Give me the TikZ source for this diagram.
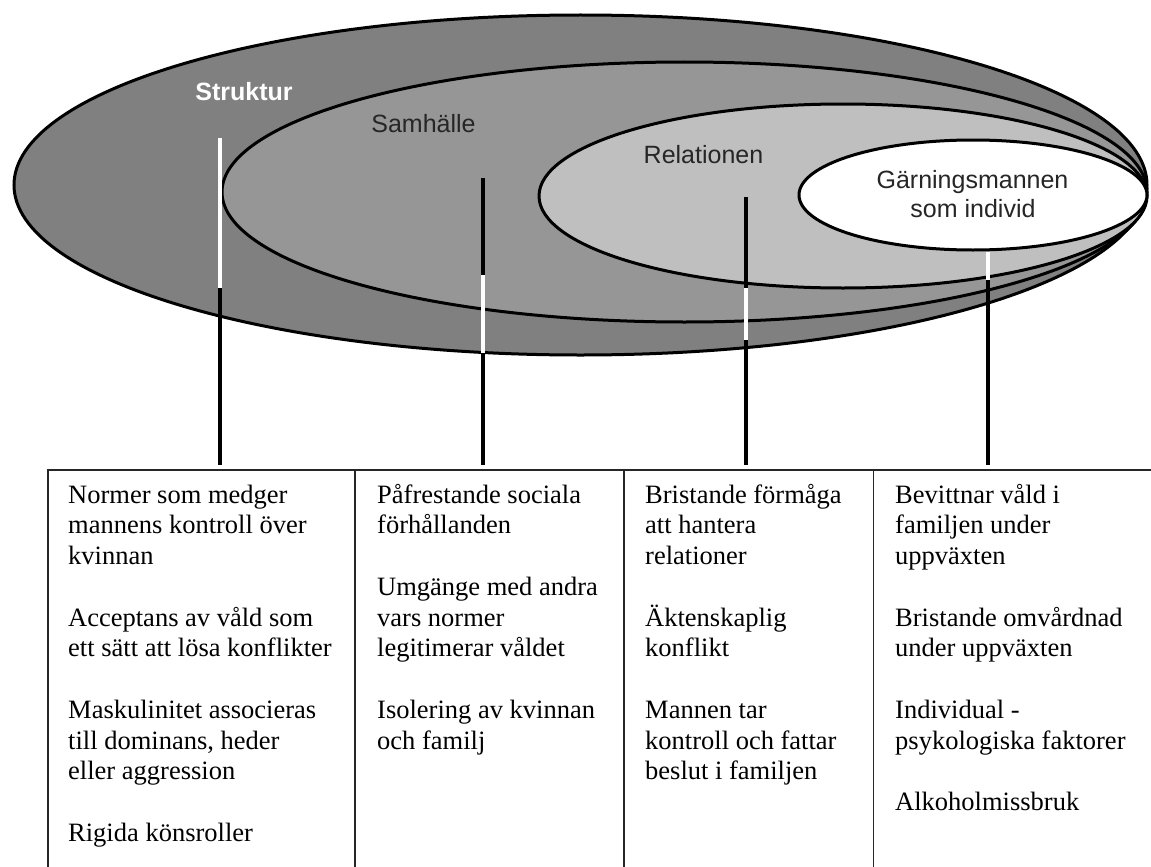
\documentclass[tikz,border=0pt]{standalone}
\usepackage{fontspec}
\setmainfont{Liberation Serif}
\newfontfamily\lsans{Liberation Sans}
\usetikzlibrary{shapes.geometric}
\begin{document}
\begin{tikzpicture}[x=1pt,y=-1pt,
  ring/.style={ellipse, draw=black, line width=3pt, inner sep=0pt, outer sep=0pt},
  lbl/.style={font=\lsans\fontsize{25}{28}\selectfont, text=black!85, inner sep=0pt, anchor=base},
  blbl/.style={font=\lsans\bfseries\fontsize{25}{28}\selectfont, text=white, inner sep=0pt, anchor=base},
  bseg/.style={line width=4pt, black},
  wseg/.style={line width=4pt, white},
  gridline/.style={line width=1.3pt, black!85},
  cell/.style={anchor=north west, inner sep=0pt, align=left, font=\fontsize{26.5}{30.73}\selectfont}
]
\useasboundingbox (0,0) rectangle (1151,867);

% nested ellipses
\node[ring, fill=black!50, minimum width=1133pt, minimum height=340pt] (outer) at (580.5,185) {};
\node[ring, fill=black!41, minimum width=925pt, minimum height=260pt] (samh) at (684.5,192) {};
\node[ring, fill=black!25, minimum width=608pt, minimum height=184pt] (rel) at (843,196) {};
\node[ring, fill=white, minimum width=348pt, minimum height=110pt] (garn) at (973,195) {};

% connectors
\coordinate (a1) at (220,138);
\coordinate (a2) at (220,288);
\coordinate (a3) at (220,465);
\draw[wseg] (a1) -- (a2);
\draw[bseg] (a2) -- (a3);

\coordinate (b1) at (483,178);
\coordinate (b2) at (483,275);
\coordinate (b3) at (483,353);
\coordinate (b4) at (483,465);
\draw[bseg] (b1) -- (b2);
\draw[wseg] (b2) -- (b3);
\draw[bseg] (b3) -- (b4);

\coordinate (c1) at (746,197);
\coordinate (c2) at (746,288);
\coordinate (c3) at (746,340);
\coordinate (c4) at (746,465);
\draw[bseg] (c1) -- (c2);
\draw[wseg] (c2) -- (c3);
\draw[bseg] (c3) -- (c4);

\coordinate (d1) at (988,252);
\coordinate (d2) at (988,280);
\coordinate (d3) at (988,465);
\draw[wseg] (d1) -- (d2);
\draw[bseg] (d2) -- (d3);

% labels
\node[blbl] (tstruk) at (244,100) {Struktur};
\node[lbl] (tsamh) at (423.5,132) {Samhälle};
\node[lbl] (trel) at (703.5,163) {Relationen};
\node[lbl] (tgarn1) at (972.5,188) {Gärningsmannen};
\node[lbl] (tgarn2) at (973,217) {som individ};

% table
\coordinate (tl) at (48,470);
\coordinate (tr) at (1151,470);
\coordinate (bl) at (48,867);
\coordinate (v1t) at (355,470);
\coordinate (v1b) at (355,867);
\coordinate (v2t) at (624,470);
\coordinate (v2b) at (624,867);
\coordinate (v3t) at (873.5,470);
\coordinate (v3b) at (873.5,867);
\draw[gridline] (bl) -- (tl) -- (tr);
\draw[gridline] (v1t) -- (v1b);
\draw[gridline] (v2t) -- (v2b);
\draw[gridline] (v3t) -- (v3b);

\node[cell] (col1) at (68,479) {\rule{0pt}{24pt}Normer som medger\\mannens kontroll över\\kvinnan\\[30.73pt]Acceptans av våld som\\ett sätt att lösa konflikter\\[30.73pt]Maskulinitet associeras\\till dominans, heder\\eller aggression\\[30.73pt]Rigida könsroller};
\node[cell] (col2) at (377,479) {\rule{0pt}{24pt}Påfrestande sociala\\förhållanden\\[30.73pt]Umgänge med andra\\vars normer\\legitimerar våldet\\[30.73pt]Isolering av kvinnan\\och familj};
\node[cell] (col3) at (645,479) {\rule{0pt}{24pt}Bristande förmåga\\att hantera\\relationer\\[30.73pt]Äktenskaplig\\konflikt\\[30.73pt]Mannen tar\\kontroll och fattar\\beslut i familjen};
\node[cell] (col4) at (895,479) {\rule{0pt}{24pt}Bevittnar våld i\\familjen under\\uppväxten\\[30.73pt]Bristande omvårdnad\\under uppväxten\\[30.73pt]Individual -\\psykologiska faktorer\\[30.73pt]Alkoholmissbruk};
\end{tikzpicture}
\end{document}
